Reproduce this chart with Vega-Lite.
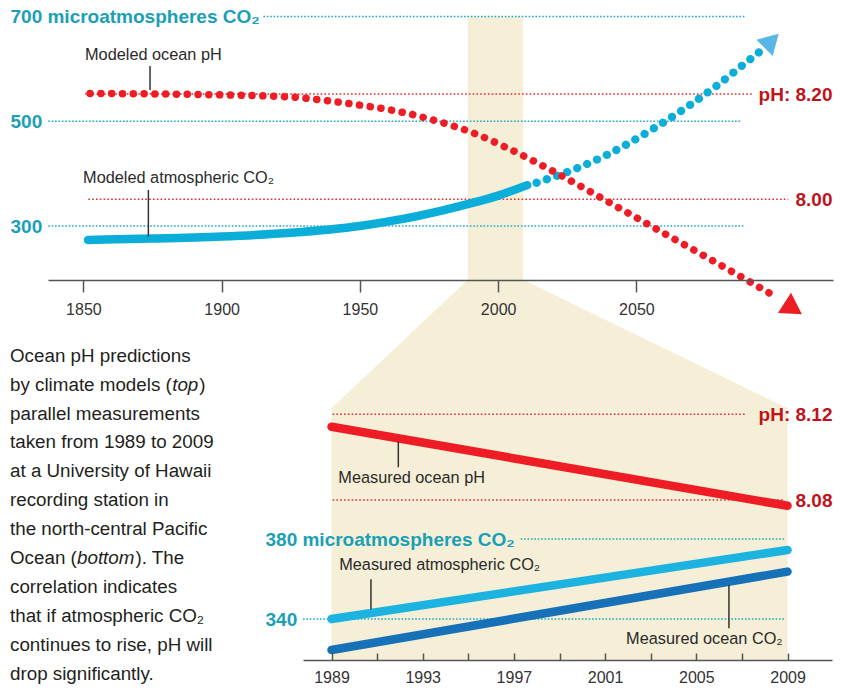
{
  "$schema": "https://vega.github.io/schema/vega-lite/v6.json",
  "width": 847,
  "height": 688,
  "padding": 0,
  "autosize": {"type": "none"},
  "background": "#ffffff",
  "config": {"view": {"stroke": null}, "axis": {"grid": false, "title": null, "labelOverlap": false}},
  "resolve": {"scale": {"x": "independent", "y": "independent"}, "axis": {"x": "independent", "y": "independent"}},
  "layer": [
    {
      "data": {"values": [{"x": 1989, "x2": 2009, "y": 196.9, "y2": 700}]},
      "mark": {"type": "rect", "color": "#f5efd7"},
      "encoding": {
        "x": {"field": "x", "type": "quantitative", "scale": {"domain": [1837.2, 2121.1], "range": [48, 833], "nice": false, "zero": false}, "axis": null},
        "x2": {"field": "x2"},
        "y": {"field": "y", "type": "quantitative", "scale": {"domain": [300, 700], "range": [226, 16.5], "nice": false, "zero": false}, "axis": null},
        "y2": {"field": "y2"}
      }
    },
    {
      "data": {"values": [{"y": 197.5, "x": 1989, "x2": 2009}, {"y": -47.8, "x": 1939.7, "x2": 2104.6}]},
      "mark": {"type": "area", "orient": "horizontal", "color": "#f5efd7"},
      "encoding": {
        "y": {"field": "y", "type": "quantitative", "scale": {"domain": [300, 700], "range": [226, 16.5], "nice": false, "zero": false}, "axis": null},
        "x": {"field": "x", "type": "quantitative", "stack": null, "scale": {"domain": [1837.2, 2121.1], "range": [48, 833], "nice": false, "zero": false}, "axis": null},
        "x2": {"field": "x2"}
      }
    },
    {
      "data": {"values": [{"x": 1989, "x2": 2009, "y": 319.5, "y2": 445.8}]},
      "mark": {"type": "rect", "color": "#f5efd7"},
      "encoding": {
        "x": {"field": "x", "type": "quantitative", "scale": {"domain": [1987.75, 2010.95], "range": [303, 832], "nice": false, "zero": false}, "axis": null},
        "x2": {"field": "x2"},
        "y": {"field": "y", "type": "quantitative", "scale": {"domain": [340, 380], "range": [619, 539], "nice": false, "zero": false}, "axis": null},
        "y2": {"field": "y2"}
      }
    },
    {
      "data": {"values": [{"v": 700, "x": 1915.1, "x2": 2089.3}, {"v": 500, "x": 1837.3, "x2": 2087.5}, {"v": 300, "x": 1837.3, "x2": 2088.7}]},
      "mark": {"type": "rule", "color": "#1fa8c4", "strokeWidth": 1.6, "strokeDash": [1.6, 1.8]},
      "encoding": {
        "x": {"field": "x", "type": "quantitative", "scale": {"domain": [1837.2, 2121.1], "range": [48, 833], "nice": false, "zero": false},
          "axis": {"orient": "bottom", "offset": -408, "zindex": 1, "values": [1850, 1900, 1950, 2000, 2050], "format": "d", "domain": true, "domainColor": "#555555", "domainWidth": 1.5, "ticks": true, "tickColor": "#555555", "tickWidth": 1.5, "tickSize": 12, "labelFont": "Liberation Sans", "labelFontSize": 16, "labelColor": "#333333", "labelPadding": 9}},
        "x2": {"field": "x2"},
        "y": {"field": "v", "type": "quantitative", "scale": {"domain": [300, 700], "range": [226, 16.5], "nice": false, "zero": false},
          "axis": {"orient": "left", "offset": 0, "zindex": 1, "values": [300, 500, 700], "labelExpr": "datum.value > 600 ? '700 microatmospheres CO₂' : datum.label", "domain": false, "ticks": false, "labelAlign": "left", "labelBaseline": "middle", "labelPadding": -10, "labelFont": "Liberation Sans", "labelFontWeight": "bold", "labelFontSize": 19, "labelColor": "#1a9fb7", "labelLimit": 500}}
      }
    },
    {
      "data": {"values": [{"v": 8.2, "x": 1850.6, "x2": 2091.7}, {"v": 8.0, "x": 1851.8, "x2": 2104.9}]},
      "mark": {"type": "rule", "color": "#e32a30", "strokeWidth": 1.6, "strokeDash": [1.6, 2.2]},
      "encoding": {
        "x": {"field": "x", "type": "quantitative", "scale": {"domain": [1837.2, 2121.1], "range": [48, 833], "nice": false, "zero": false}, "axis": null},
        "x2": {"field": "x2"},
        "y": {"field": "v", "type": "quantitative", "scale": {"domain": [8.0, 8.2], "range": [199.3, 94], "nice": false, "zero": false},
          "axis": {"orient": "right", "offset": 0, "zindex": 1, "values": [8.0, 8.2], "labelExpr": "datum.value > 8.1 ? 'pH: 8.20' : '8.00'", "domain": false, "ticks": false, "labelAlign": "right", "labelBaseline": "middle", "labelPadding": -15, "labelFont": "Liberation Sans", "labelFontWeight": "bold", "labelFontSize": 19, "labelColor": "#c0141c", "labelLimit": 500}}
      }
    },
    {
      "data": {"values": [
        {"year": 1851.7, "co2": 273.5}, {"year": 1875, "co2": 276}, {"year": 1900, "co2": 280}, {"year": 1925, "co2": 287},
        {"year": 1950, "co2": 300}, {"year": 1965, "co2": 313}, {"year": 1980, "co2": 330}, {"year": 1990, "co2": 343},
        {"year": 2000, "co2": 358}, {"year": 2010.5, "co2": 378}
      ]},
      "mark": {"type": "line", "color": "#0aaed9", "strokeWidth": 8.5, "strokeCap": "round", "strokeJoin": "round", "interpolate": "monotone"},
      "encoding": {
        "x": {"field": "year", "type": "quantitative", "scale": {"domain": [1837.2, 2121.1], "range": [48, 833], "nice": false, "zero": false}, "axis": null},
        "y": {"field": "co2", "type": "quantitative", "scale": {"domain": [300, 700], "range": [226, 16.5], "nice": false, "zero": false}, "axis": null}
      }
    },
    {
      "data": {"values": [
        {"year": 2013.9, "co2": 382.6}, {"year": 2028.4, "co2": 410.1}, {"year": 2039.2, "co2": 435.5}, {"year": 2056.3, "co2": 486.5},
        {"year": 2069.3, "co2": 530.9}, {"year": 2079, "co2": 567.7}, {"year": 2088, "co2": 605.3}, {"year": 2094.3, "co2": 631.5}
      ]},
      "mark": {"type": "line", "color": "#0aaed9", "strokeWidth": 8.3, "strokeCap": "round", "strokeDash": [0.1, 10.7], "interpolate": "monotone"},
      "encoding": {
        "x": {"field": "year", "type": "quantitative", "scale": {"domain": [1837.2, 2121.1], "range": [48, 833], "nice": false, "zero": false}, "axis": null},
        "y": {"field": "co2", "type": "quantitative", "scale": {"domain": [300, 700], "range": [226, 16.5], "nice": false, "zero": false}, "axis": null}
      }
    },
    {
      "data": {"values": [{"year": 2098.9, "co2": 653.6}]},
      "mark": {"type": "point", "shape": "triangle-up", "filled": true, "angle": 45, "size": 530, "color": "#58b5e6", "opacity": 1},
      "encoding": {
        "x": {"field": "year", "type": "quantitative", "scale": {"domain": [1837.2, 2121.1], "range": [48, 833], "nice": false, "zero": false}, "axis": null},
        "y": {"field": "co2", "type": "quantitative", "scale": {"domain": [300, 700], "range": [226, 16.5], "nice": false, "zero": false}, "axis": null}
      }
    },
    {
      "data": {"values": [
        {"year": 1852.4, "ph": 8.201}, {"year": 1903, "ph": 8.198}, {"year": 1926.5, "ph": 8.1937}, {"year": 1938, "ph": 8.1873},
        {"year": 1949.7, "ph": 8.1791}, {"year": 1961.3, "ph": 8.1696}, {"year": 1976.5, "ph": 8.1506}, {"year": 1991.3, "ph": 8.1254},
        {"year": 2001.8, "ph": 8.1012}, {"year": 2019.7, "ph": 8.0538}, {"year": 2040.1, "ph": 7.9943}, {"year": 2060.6, "ph": 7.9335},
        {"year": 2080.8, "ph": 7.8739}, {"year": 2101.2, "ph": 7.8125}
      ]},
      "mark": {"type": "line", "color": "#ee1d25", "strokeWidth": 7.5, "strokeCap": "round", "strokeDash": [0.1, 10.7], "interpolate": "monotone"},
      "encoding": {
        "x": {"field": "year", "type": "quantitative", "scale": {"domain": [1837.2, 2121.1], "range": [48, 833], "nice": false, "zero": false}, "axis": null},
        "y": {"field": "ph", "type": "quantitative", "scale": {"domain": [8.0, 8.2], "range": [199.3, 94], "nice": false, "zero": false}, "axis": null}
      }
    },
    {
      "data": {"values": [{"year": 2106.7, "ph": 7.7926}]},
      "mark": {"type": "point", "shape": "triangle-up", "filled": true, "angle": 123, "size": 576, "color": "#ee1d25", "opacity": 1},
      "encoding": {
        "x": {"field": "year", "type": "quantitative", "scale": {"domain": [1837.2, 2121.1], "range": [48, 833], "nice": false, "zero": false}, "axis": null},
        "y": {"field": "ph", "type": "quantitative", "scale": {"domain": [8.0, 8.2], "range": [199.3, 94], "nice": false, "zero": false}, "axis": null}
      }
    },
    {
      "data": {"values": [{"x": 1874.1, "y": 8.2532, "y2": 8.2076}]},
      "mark": {"type": "rule", "color": "#333333", "strokeWidth": 1.5},
      "encoding": {
        "x": {"field": "x", "type": "quantitative", "scale": {"domain": [1837.2, 2121.1], "range": [48, 833], "nice": false, "zero": false}, "axis": null},
        "y": {"field": "y", "type": "quantitative", "scale": {"domain": [8.0, 8.2], "range": [199.3, 94], "nice": false, "zero": false}, "axis": null},
        "y2": {"field": "y2"}
      }
    },
    {
      "data": {"values": [{"x": 1873.5, "y": 368.7, "y2": 279.6}]},
      "mark": {"type": "rule", "color": "#333333", "strokeWidth": 1.5},
      "encoding": {
        "x": {"field": "x", "type": "quantitative", "scale": {"domain": [1837.2, 2121.1], "range": [48, 833], "nice": false, "zero": false}, "axis": null},
        "y": {"field": "y", "type": "quantitative", "scale": {"domain": [300, 700], "range": [226, 16.5], "nice": false, "zero": false}, "axis": null},
        "y2": {"field": "y2"}
      }
    },
    {
      "data": {"values": [{"x": 1850.6, "y": 8.2646, "t": "Modeled ocean pH"}]},
      "mark": {"type": "text", "align": "left", "baseline": "alphabetic", "font": "Liberation Sans", "fontSize": 16.3, "color": "#2a2a2a"},
      "encoding": {
        "x": {"field": "x", "type": "quantitative", "scale": {"domain": [1837.2, 2121.1], "range": [48, 833], "nice": false, "zero": false}, "axis": null},
        "y": {"field": "y", "type": "quantitative", "scale": {"domain": [8.0, 8.2], "range": [199.3, 94], "nice": false, "zero": false}, "axis": null},
        "text": {"field": "t"}
      }
    },
    {
      "data": {"values": [{"x": 1849.9, "y": 381.5, "t": "Modeled atmospheric CO₂"}]},
      "mark": {"type": "text", "align": "left", "baseline": "alphabetic", "font": "Liberation Sans", "fontSize": 16.3, "color": "#2a2a2a"},
      "encoding": {
        "x": {"field": "x", "type": "quantitative", "scale": {"domain": [1837.2, 2121.1], "range": [48, 833], "nice": false, "zero": false}, "axis": null},
        "y": {"field": "y", "type": "quantitative", "scale": {"domain": [300, 700], "range": [226, 16.5], "nice": false, "zero": false}, "axis": null},
        "text": {"field": "t"}
      }
    },
    {
      "data": {"values": [{"v": 8.12, "x": 1989.05, "x2": 2007.2}, {"v": 8.08, "x": 1989.05, "x2": 2008.86}]},
      "mark": {"type": "rule", "color": "#e32a30", "strokeWidth": 1.6, "strokeDash": [1.6, 2.2]},
      "encoding": {
        "x": {"field": "x", "type": "quantitative", "scale": {"domain": [1987.75, 2010.95], "range": [303, 832], "nice": false, "zero": false},
          "axis": {"orient": "bottom", "offset": -28, "zindex": 1, "values": [1989, 1991, 1993, 1995, 1997, 1999, 2001, 2003, 2005, 2007, 2009], "format": "d", "labelExpr": "(datum.value - 1989) % 4 == 0 ? datum.label : ''", "domain": true, "domainColor": "#555555", "domainWidth": 1.5, "ticks": true, "tickColor": "#555555", "tickWidth": 1.5, "tickSize": -7, "labelFont": "Liberation Sans", "labelFontSize": 16, "labelColor": "#333333", "labelPadding": 16.8}},
        "x2": {"field": "x2"},
        "y": {"field": "v", "type": "quantitative", "scale": {"domain": [8.08, 8.12], "range": [500, 414.3], "nice": false, "zero": false},
          "axis": {"orient": "right", "offset": 0, "zindex": 1, "values": [8.08, 8.12], "labelExpr": "datum.value > 8.1 ? 'pH: 8.12' : '8.08'", "domain": false, "ticks": false, "labelAlign": "right", "labelBaseline": "middle", "labelPadding": -15, "labelFont": "Liberation Sans", "labelFontWeight": "bold", "labelFontSize": 19, "labelColor": "#c0141c", "labelLimit": 500}}
      }
    },
    {
      "data": {"values": [{"v": 380, "x": 1997.3, "x2": 2008.9}, {"v": 340, "x": 1987.75, "x2": 2008.9}]},
      "mark": {"type": "rule", "color": "#1fa8c4", "strokeWidth": 1.6, "strokeDash": [1.6, 1.8]},
      "encoding": {
        "x": {"field": "x", "type": "quantitative", "scale": {"domain": [1987.75, 2010.95], "range": [303, 832], "nice": false, "zero": false}, "axis": null},
        "x2": {"field": "x2"},
        "y": {"field": "v", "type": "quantitative", "scale": {"domain": [340, 380], "range": [619, 539], "nice": false, "zero": false},
          "axis": {"orient": "left", "offset": 0, "zindex": 1, "values": [340, 380], "labelExpr": "datum.value > 360 ? '380 microatmospheres CO₂' : '340'", "domain": false, "ticks": false, "labelAlign": "left", "labelBaseline": "middle", "labelPadding": -265, "labelFont": "Liberation Sans", "labelFontWeight": "bold", "labelFontSize": 19, "labelColor": "#1a9fb7", "labelLimit": 500}}
      }
    },
    {
      "data": {"values": [{"year": 1989, "ph": 8.1142}, {"year": 2009, "ph": 8.0773}]},
      "mark": {"type": "line", "color": "#ee1d25", "strokeWidth": 8.5, "strokeCap": "round"},
      "encoding": {
        "x": {"field": "year", "type": "quantitative", "scale": {"domain": [1987.75, 2010.95], "range": [303, 832], "nice": false, "zero": false}, "axis": null},
        "y": {"field": "ph", "type": "quantitative", "scale": {"domain": [8.08, 8.12], "range": [500, 414.3], "nice": false, "zero": false}, "axis": null}
      }
    },
    {
      "data": {"values": [{"year": 1989, "co2": 340.0}, {"year": 2009, "co2": 374.5}]},
      "mark": {"type": "line", "color": "#1cb3e0", "strokeWidth": 8.5, "strokeCap": "round"},
      "encoding": {
        "x": {"field": "year", "type": "quantitative", "scale": {"domain": [1987.75, 2010.95], "range": [303, 832], "nice": false, "zero": false}, "axis": null},
        "y": {"field": "co2", "type": "quantitative", "scale": {"domain": [340, 380], "range": [619, 539], "nice": false, "zero": false}, "axis": null}
      }
    },
    {
      "data": {"values": [{"year": 1989, "co2": 324.5}, {"year": 2009, "co2": 363.7}]},
      "mark": {"type": "line", "color": "#1771b8", "strokeWidth": 8.5, "strokeCap": "round"},
      "encoding": {
        "x": {"field": "year", "type": "quantitative", "scale": {"domain": [1987.75, 2010.95], "range": [303, 832], "nice": false, "zero": false}, "axis": null},
        "y": {"field": "co2", "type": "quantitative", "scale": {"domain": [340, 380], "range": [619, 539], "nice": false, "zero": false}, "axis": null}
      }
    },
    {
      "data": {"values": [{"x": 1991.93, "y": 8.1072, "y2": 8.0953}]},
      "mark": {"type": "rule", "color": "#333333", "strokeWidth": 1.5},
      "encoding": {
        "x": {"field": "x", "type": "quantitative", "scale": {"domain": [1987.75, 2010.95], "range": [303, 832], "nice": false, "zero": false}, "axis": null},
        "y": {"field": "y", "type": "quantitative", "scale": {"domain": [8.08, 8.12], "range": [500, 414.3], "nice": false, "zero": false}, "axis": null},
        "y2": {"field": "y2"}
      }
    },
    {
      "data": {"values": [{"x": 1990.73, "y": 359.85, "y2": 344.85}, {"x": 2006.43, "y": 357, "y2": 335.35}]},
      "mark": {"type": "rule", "color": "#333333", "strokeWidth": 1.5},
      "encoding": {
        "x": {"field": "x", "type": "quantitative", "scale": {"domain": [1987.75, 2010.95], "range": [303, 832], "nice": false, "zero": false}, "axis": null},
        "y": {"field": "y", "type": "quantitative", "scale": {"domain": [340, 380], "range": [619, 539], "nice": false, "zero": false}, "axis": null},
        "y2": {"field": "y2"}
      }
    },
    {
      "data": {"values": [{"x": 1989.3, "y": 8.0878, "t": "Measured ocean pH"}]},
      "mark": {"type": "text", "align": "left", "baseline": "alphabetic", "font": "Liberation Sans", "fontSize": 16.3, "color": "#2a2a2a"},
      "encoding": {
        "x": {"field": "x", "type": "quantitative", "scale": {"domain": [1987.75, 2010.95], "range": [303, 832], "nice": false, "zero": false}, "axis": null},
        "y": {"field": "y", "type": "quantitative", "scale": {"domain": [8.08, 8.12], "range": [500, 414.3], "nice": false, "zero": false}, "axis": null},
        "text": {"field": "t"}
      }
    },
    {
      "data": {"values": [{"x": 1989.34, "y": 364.5, "t": "Measured atmospheric CO₂"}, {"x": 2001.92, "y": 327.5, "t": "Measured ocean CO₂"}]},
      "mark": {"type": "text", "align": "left", "baseline": "alphabetic", "font": "Liberation Sans", "fontSize": 16.3, "color": "#2a2a2a"},
      "encoding": {
        "x": {"field": "x", "type": "quantitative", "scale": {"domain": [1987.75, 2010.95], "range": [303, 832], "nice": false, "zero": false}, "axis": null},
        "y": {"field": "y", "type": "quantitative", "scale": {"domain": [340, 380], "range": [619, 539], "nice": false, "zero": false}, "axis": null},
        "text": {"field": "t"}
      }
    },
    {
      "data": {"values": [
        {"line": 1, "col": 0, "t": "Ocean pH predictions"},
        {"line": 2, "col": 0, "t": "by climate models ("},
        {"line": 3, "col": 0, "t": "parallel measurements"},
        {"line": 4, "col": 0, "t": "taken from 1989 to 2009"},
        {"line": 5, "col": 0, "t": "at a University of Hawaii"},
        {"line": 6, "col": 0, "t": "recording station in"},
        {"line": 7, "col": 0, "t": "the north-central Pacific"},
        {"line": 8, "col": 0, "t": "Ocean ("},
        {"line": 9, "col": 0, "t": "correlation indicates"},
        {"line": 10, "col": 0, "t": "that if atmospheric CO₂"},
        {"line": 11, "col": 0, "t": "continues to rise, pH will"},
        {"line": 12, "col": 0, "t": "drop significantly."}
      ]},
      "mark": {"type": "text", "align": "left", "baseline": "alphabetic", "font": "Liberation Sans", "fontSize": 18.8, "color": "#231f20"},
      "encoding": {
        "x": {"field": "col", "type": "quantitative", "scale": {"domain": [0, 1], "range": [10, 260], "nice": false, "zero": false}, "axis": null},
        "y": {"field": "line", "type": "quantitative", "scale": {"domain": [1, 12], "range": [361.7, 679.6], "nice": false, "zero": false}, "axis": null},
        "text": {"field": "t"}
      }
    },
    {
      "data": {"values": [{"line": 2, "col": 0, "t": "top"}]},
      "mark": {"type": "text", "align": "left", "baseline": "alphabetic", "font": "Liberation Sans", "fontStyle": "italic", "fontSize": 18.8, "color": "#231f20", "dx": 162.2},
      "encoding": {
        "x": {"field": "col", "type": "quantitative", "scale": {"domain": [0, 1], "range": [10, 260], "nice": false, "zero": false}, "axis": null},
        "y": {"field": "line", "type": "quantitative", "scale": {"domain": [1, 12], "range": [361.7, 679.6], "nice": false, "zero": false}, "axis": null},
        "text": {"field": "t"}
      }
    },
    {
      "data": {"values": [{"line": 2, "col": 0, "t": ")"}]},
      "mark": {"type": "text", "align": "left", "baseline": "alphabetic", "font": "Liberation Sans", "fontSize": 18.8, "color": "#231f20", "dx": 189.3},
      "encoding": {
        "x": {"field": "col", "type": "quantitative", "scale": {"domain": [0, 1], "range": [10, 260], "nice": false, "zero": false}, "axis": null},
        "y": {"field": "line", "type": "quantitative", "scale": {"domain": [1, 12], "range": [361.7, 679.6], "nice": false, "zero": false}, "axis": null},
        "text": {"field": "t"}
      }
    },
    {
      "data": {"values": [{"line": 8, "col": 0, "t": "bottom"}]},
      "mark": {"type": "text", "align": "left", "baseline": "alphabetic", "font": "Liberation Sans", "fontStyle": "italic", "fontSize": 18.8, "color": "#231f20", "dx": 67.0},
      "encoding": {
        "x": {"field": "col", "type": "quantitative", "scale": {"domain": [0, 1], "range": [10, 260], "nice": false, "zero": false}, "axis": null},
        "y": {"field": "line", "type": "quantitative", "scale": {"domain": [1, 12], "range": [361.7, 679.6], "nice": false, "zero": false}, "axis": null},
        "text": {"field": "t"}
      }
    },
    {
      "data": {"values": [{"line": 8, "col": 0, "t": "). The"}]},
      "mark": {"type": "text", "align": "left", "baseline": "alphabetic", "font": "Liberation Sans", "fontSize": 18.8, "color": "#231f20", "dx": 125.5},
      "encoding": {
        "x": {"field": "col", "type": "quantitative", "scale": {"domain": [0, 1], "range": [10, 260], "nice": false, "zero": false}, "axis": null},
        "y": {"field": "line", "type": "quantitative", "scale": {"domain": [1, 12], "range": [361.7, 679.6], "nice": false, "zero": false}, "axis": null},
        "text": {"field": "t"}
      }
    }
  ]
}
